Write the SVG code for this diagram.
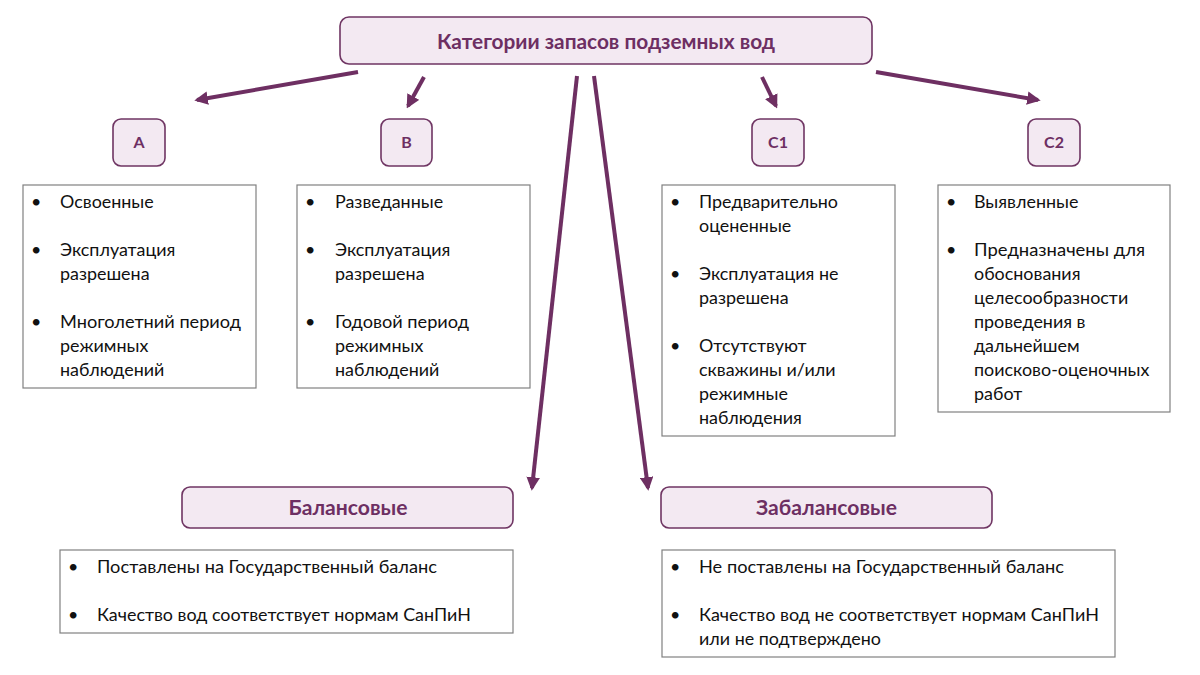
<svg xmlns="http://www.w3.org/2000/svg" width="1200" height="675" viewBox="0 0 1200 675">
<defs>
<marker id="ah" viewBox="0 0 10 10" refX="8" refY="5" markerWidth="3.4" markerHeight="3.4" orient="auto" markerUnits="strokeWidth">
<path d="M0,0 L10,5 L0,10 z" fill="#6e2f62"/>
</marker>
</defs>
<style>
.hd{fill:#f3e9f2;stroke:#6f3563;stroke-width:1.6}
.ht{font-family:Lato,"Open Sans","Liberation Sans",sans-serif;font-weight:bold;fill:#6d2f63;text-anchor:middle}
.lb{fill:#ffffff;stroke:#808080;stroke-width:1.2}
.tx{font-family:Lato,"Open Sans","Liberation Sans",sans-serif;font-size:17.9px;fill:#111111}
.cn{stroke:#6e2f62;stroke-width:4;fill:none;marker-end:url(#ah)}
</style>
<rect width="1200" height="675" fill="#ffffff"/>
<g id="connectors">
<line class="cn" x1="358" y1="72" x2="197" y2="100"/>
<line class="cn" x1="424" y1="77" x2="408" y2="106"/>
<line class="cn" x1="577" y1="76" x2="532" y2="488"/>
<line class="cn" x1="594" y1="76" x2="648" y2="488"/>
<line class="cn" x1="762" y1="77" x2="776" y2="106"/>
<line class="cn" x1="876" y1="72" x2="1038" y2="100"/>
</g>
<g id="root">
<rect class="hd" x="340" y="17" width="532" height="47" rx="9"/>
<text class="ht" x="606" y="48.5" font-size="20.5" textLength="338" lengthAdjust="spacingAndGlyphs">Категории запасов подземных вод</text>
</g>
<g id="catA">
<rect class="hd" x="113" y="119" width="52" height="47" rx="8"/>
<text class="ht" x="139" y="148" font-size="16">А</text>
</g>
<g id="catB">
<rect class="hd" x="381" y="119" width="51" height="47" rx="8"/>
<text class="ht" x="406.5" y="148" font-size="16">В</text>
</g>
<g id="catC1">
<rect class="hd" x="752" y="119" width="52" height="47" rx="8"/>
<text class="ht" x="778" y="148" font-size="16">С1</text>
</g>
<g id="catC2">
<rect class="hd" x="1028" y="119" width="52" height="47" rx="8"/>
<text class="ht" x="1054" y="148" font-size="16">С2</text>
</g>
<g id="listA">
<rect class="lb" x="23" y="185" width="233" height="203"/>
<g class="tx">
<text x="31" y="208">•</text><text x="60" y="208">Освоенные</text>
<text x="31" y="256">•</text><text x="60" y="256">Эксплуатация</text>
<text x="60" y="280">разрешена</text>
<text x="31" y="328">•</text><text x="60" y="328" textLength="181" lengthAdjust="spacingAndGlyphs">Многолетний период</text>
<text x="60" y="352">режимных</text>
<text x="60" y="376">наблюдений</text>
</g>
</g>
<g id="listB">
<rect class="lb" x="297" y="185" width="233" height="203"/>
<g class="tx">
<text x="305" y="208">•</text><text x="335" y="208">Разведанные</text>
<text x="305" y="256">•</text><text x="335" y="256">Эксплуатация</text>
<text x="335" y="280">разрешена</text>
<text x="305" y="328">•</text><text x="335" y="328" textLength="134" lengthAdjust="spacingAndGlyphs">Годовой период</text>
<text x="335" y="352">режимных</text>
<text x="335" y="376">наблюдений</text>
</g>
</g>
<g id="listC1">
<rect class="lb" x="662" y="185" width="233" height="251"/>
<g class="tx">
<text x="670" y="208">•</text><text x="699" y="208">Предварительно</text>
<text x="699" y="232">оцененные</text>
<text x="670" y="280">•</text><text x="699" y="280">Эксплуатация не</text>
<text x="699" y="304">разрешена</text>
<text x="670" y="352">•</text><text x="699" y="352">Отсутствуют</text>
<text x="699" y="376">скважины и/или</text>
<text x="699" y="400">режимные</text>
<text x="699" y="424">наблюдения</text>
</g>
</g>
<g id="listC2">
<rect class="lb" x="938" y="185" width="232" height="227"/>
<g class="tx">
<text x="946" y="208">•</text><text x="974" y="208">Выявленные</text>
<text x="946" y="256">•</text><text x="974" y="256" textLength="171" lengthAdjust="spacingAndGlyphs">Предназначены для</text>
<text x="974" y="280">обоснования</text>
<text x="974" y="304">целесообразности</text>
<text x="974" y="328">проведения в</text>
<text x="974" y="352">дальнейшем</text>
<text x="974" y="376">поисково-оценочных</text>
<text x="974" y="400">работ</text>
</g>
</g>
<g id="balance">
<rect class="hd" x="182" y="487" width="331" height="41" rx="8"/>
<text class="ht" x="348" y="514.5" font-size="21" textLength="119" lengthAdjust="spacingAndGlyphs">Балансовые</text>
</g>
<g id="offbalance">
<rect class="hd" x="661" y="487" width="331" height="41" rx="8"/>
<text class="ht" x="826.5" y="514.5" font-size="21" textLength="141" lengthAdjust="spacingAndGlyphs">Забалансовые</text>
</g>
<g id="listBalance">
<rect class="lb" x="60" y="550" width="453" height="83"/>
<g class="tx">
<text x="68" y="573">•</text><text x="97" y="573" textLength="340" lengthAdjust="spacingAndGlyphs">Поставлены на Государственный баланс</text>
<text x="68" y="621">•</text><text x="97" y="621" textLength="374" lengthAdjust="spacingAndGlyphs">Качество вод соответствует нормам СанПиН</text>
</g>
</g>
<g id="listOffBalance">
<rect class="lb" x="662" y="550" width="453" height="107"/>
<g class="tx">
<text x="670" y="573">•</text><text x="699" y="573" textLength="365" lengthAdjust="spacingAndGlyphs">Не поставлены на Государственный баланс</text>
<text x="670" y="621">•</text><text x="699" y="621" textLength="400" lengthAdjust="spacingAndGlyphs">Качество вод не соответствует нормам СанПиН</text>
<text x="699" y="645">или не подтверждено</text>
</g>
</g>
</svg>
